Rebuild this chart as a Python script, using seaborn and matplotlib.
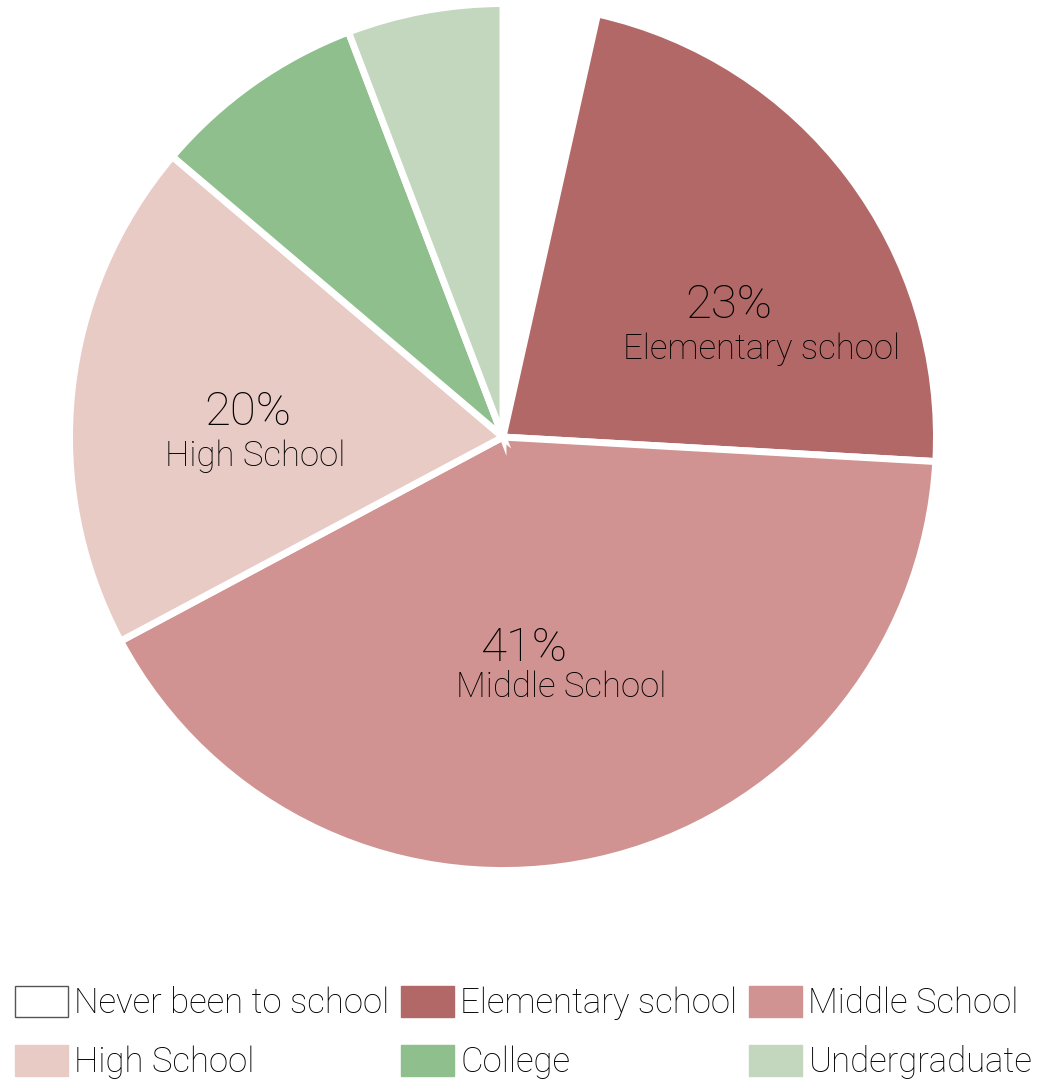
import matplotlib
matplotlib.use("Agg")
import matplotlib.pyplot as plt
from matplotlib.patches import Patch
import seaborn as sns

sns.set_theme(style="white")
plt.rcParams['font.family'] = ['Roboto', 'DejaVu Sans']

categories = ["Never been to school", "Elementary school", "Middle School",
              "High School", "College", "Undergraduate"]
values = [3.5, 22.4, 41.3, 19.0, 8.0, 5.8]
colors = ["#FFFFFF", "#B26866", "#D09391", "#E9CBC6", "#8FBF8C", "#C3D7BE"]
label_pct = ["", "23%", "41%", "20%", "", ""]
label_pos_pct = [None, (0.52, 0.305), (0.047, -0.487), (-0.589, 0.057), None, None]
label_pos_name = [None, (0.597, 0.203), (0.134, -0.577), (-0.571, -0.044), None, None]

fig = plt.figure(figsize=(10.48, 10.79), dpi=100)
ax = fig.add_axes([0.0663, 0.1932, 0.8273, 0.8035])
ax.pie(values, colors=colors, startangle=90, counterclock=False, radius=1.0,
       wedgeprops=dict(edgecolor="white", linewidth=5))
ax.set_xlim(-1, 1)
ax.set_ylim(-1, 1)
ax.set_aspect("equal")
ax.axis("off")

for i in range(len(categories)):
    if label_pct[i]:
        ax.text(*label_pos_pct[i], label_pct[i], ha="center", va="center",
                fontsize=34, fontweight="light", color="#000000")
        ax.text(*label_pos_name[i], categories[i], ha="center", va="center",
                fontsize=25, fontweight="light", color="#000000")

handles = []
for c, col in zip(categories, colors):
    ec = "#555555" if col == "#FFFFFF" else col
    handles.append(Patch(facecolor=col, edgecolor=ec, linewidth=1, label=c))
order = [0, 3, 1, 4, 2, 5]
leg = fig.legend([handles[i] for i in order], [categories[i] for i in order],
                 ncol=3, loc="lower left", bbox_to_anchor=(15 / 1048, 0.0),
                 frameon=False, handlelength=1.53, handleheight=1.0,
                 handletextpad=0.18, columnspacing=0.33, labelspacing=0.7,
                 borderpad=0.0, borderaxespad=0.0,
                 prop=dict(family=['Roboto', 'DejaVu Sans'], weight='light', size=25))
for t in leg.get_texts():
    t.set_color("#000000")

fig.savefig("out.png", dpi=100)
